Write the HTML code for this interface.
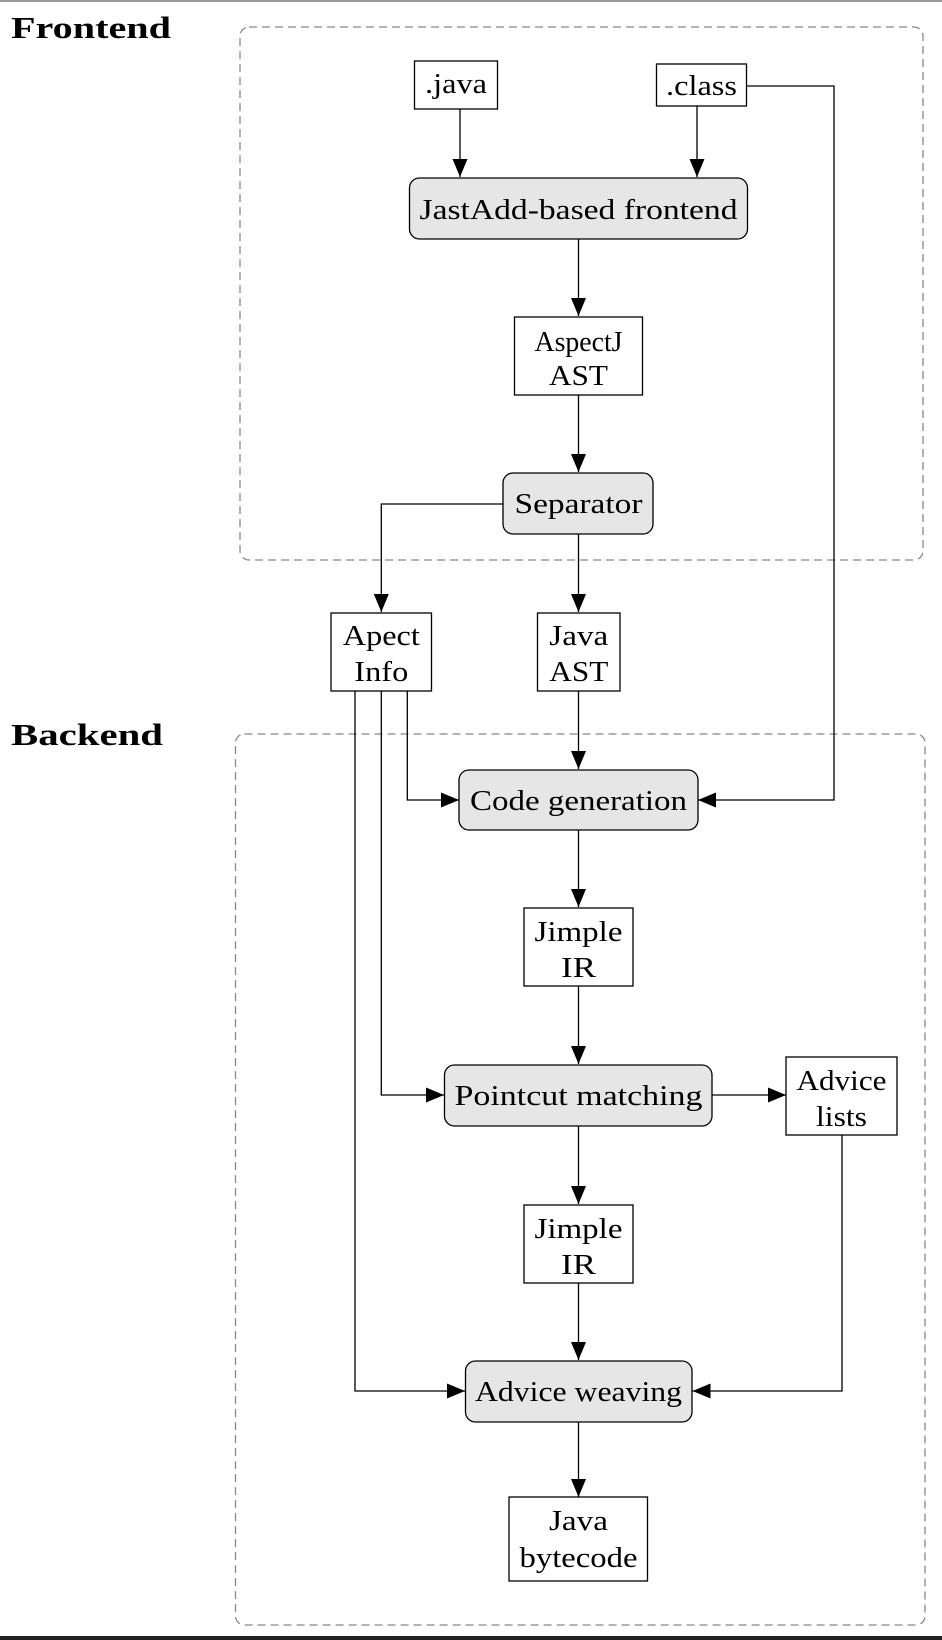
<!DOCTYPE html>
<html><head><meta charset="utf-8"><style>
html,body{margin:0;padding:0;background:#fff;}
svg{display:block;}
text{font-family:"Liberation Serif",serif;font-size:28px;fill:#000;}
.lbl{font-weight:bold;font-size:31px;}
</style></head><body>
<svg width="942" height="1640" viewBox="0 0 942 1640" xmlns="http://www.w3.org/2000/svg">
<defs>
<marker id="a" markerWidth="19" markerHeight="15" refX="18" refY="7.5" orient="auto" markerUnits="userSpaceOnUse">
<path d="M0,0 L18,7.5 L0,15 z" fill="#000"/>
</marker>
</defs>
<rect x="0" y="0" width="942" height="2" fill="#999"/>
<rect x="0" y="1636" width="942" height="4" fill="#222"/>
<text class="lbl" x="11" y="38" textLength="160" lengthAdjust="spacingAndGlyphs">Frontend</text>
<text class="lbl" x="11" y="745" textLength="152" lengthAdjust="spacingAndGlyphs">Backend</text>
<rect x="240" y="27" width="683" height="533" rx="9" fill="none" stroke="#888" stroke-width="1.3" stroke-dasharray="8,5"/>
<rect x="235.5" y="734" width="689.5" height="891" rx="9" fill="none" stroke="#888" stroke-width="1.3" stroke-dasharray="8,5"/>
<g fill="none" stroke="#000" stroke-width="1.3">
<path d="M460,109 V177" marker-end="url(#a)"/>
<path d="M697,106 V177" marker-end="url(#a)"/>
<path d="M747,86 H834 V800 H698" marker-end="url(#a)"/>
<path d="M578.5,239 V316" marker-end="url(#a)"/>
<path d="M578.5,395 V472" marker-end="url(#a)"/>
<path d="M503,504 H381.3 V612" marker-end="url(#a)"/>
<path d="M578.5,534 V612" marker-end="url(#a)"/>
<path d="M578.5,691 V769" marker-end="url(#a)"/>
<path d="M407.3,691 V800 H459" marker-end="url(#a)"/>
<path d="M381.3,691 V1095 H444" marker-end="url(#a)"/>
<path d="M355,691 V1391 H465" marker-end="url(#a)"/>
<path d="M578.5,830 V907" marker-end="url(#a)"/>
<path d="M578.5,986 V1064" marker-end="url(#a)"/>
<path d="M712,1095 H786" marker-end="url(#a)"/>
<path d="M578.5,1126 V1204" marker-end="url(#a)"/>
<path d="M578.5,1283 V1360" marker-end="url(#a)"/>
<path d="M842,1135 V1391 H692.5" marker-end="url(#a)"/>
<path d="M578.5,1422 V1497" marker-end="url(#a)"/>
</g>
<g stroke="#000" stroke-width="1.3" fill="#fff">
<rect x="414.5" y="61" width="83" height="48"/>
<rect x="656.5" y="64" width="90" height="42"/>
<rect x="409.5" y="178" width="338" height="61" rx="10" fill="#e6e6e6"/>
<rect x="514.5" y="317" width="128" height="78"/>
<rect x="503" y="473" width="150" height="61" rx="10" fill="#e6e6e6"/>
<rect x="331" y="613" width="100.5" height="78"/>
<rect x="537.5" y="613" width="82.5" height="78"/>
<rect x="459" y="770" width="239" height="60" rx="10" fill="#e6e6e6"/>
<rect x="524" y="908" width="109" height="78"/>
<rect x="444.5" y="1065" width="267.5" height="61" rx="10" fill="#e6e6e6"/>
<rect x="786" y="1057" width="111" height="78"/>
<rect x="524" y="1205" width="109" height="78"/>
<rect x="465.5" y="1361" width="226.5" height="61" rx="10" fill="#e6e6e6"/>
<rect x="509" y="1497" width="138.5" height="84"/>
</g>
<g text-anchor="middle">
<text x="456" y="93" textLength="62" lengthAdjust="spacingAndGlyphs">.java</text>
<text x="701.5" y="95" textLength="71" lengthAdjust="spacingAndGlyphs">.class</text>
<text x="578.5" y="219" textLength="318" lengthAdjust="spacingAndGlyphs">JastAdd-based frontend</text>
<text x="578.5" y="351" textLength="88" lengthAdjust="spacingAndGlyphs">AspectJ</text>
<text x="578.5" y="385" textLength="59" lengthAdjust="spacingAndGlyphs">AST</text>
<text x="578.5" y="513" textLength="128" lengthAdjust="spacingAndGlyphs">Separator</text>
<text x="381.3" y="645" textLength="77" lengthAdjust="spacingAndGlyphs">Apect</text>
<text x="381.3" y="681" textLength="54" lengthAdjust="spacingAndGlyphs">Info</text>
<text x="578.8" y="645" textLength="59" lengthAdjust="spacingAndGlyphs">Java</text>
<text x="578.8" y="681" textLength="59" lengthAdjust="spacingAndGlyphs">AST</text>
<text x="578.5" y="810" textLength="217" lengthAdjust="spacingAndGlyphs">Code generation</text>
<text x="578.5" y="941" textLength="88" lengthAdjust="spacingAndGlyphs">Jimple</text>
<text x="578.5" y="977" textLength="35" lengthAdjust="spacingAndGlyphs">IR</text>
<text x="578.5" y="1105" textLength="248" lengthAdjust="spacingAndGlyphs">Pointcut matching</text>
<text x="841.5" y="1090" textLength="90" lengthAdjust="spacingAndGlyphs">Advice</text>
<text x="841.5" y="1126" textLength="51" lengthAdjust="spacingAndGlyphs">lists</text>
<text x="578.5" y="1238" textLength="88" lengthAdjust="spacingAndGlyphs">Jimple</text>
<text x="578.5" y="1274" textLength="35" lengthAdjust="spacingAndGlyphs">IR</text>
<text x="578.5" y="1401" textLength="207" lengthAdjust="spacingAndGlyphs">Advice weaving</text>
<text x="578.5" y="1530" textLength="59" lengthAdjust="spacingAndGlyphs">Java</text>
<text x="578.5" y="1567" textLength="118" lengthAdjust="spacingAndGlyphs">bytecode</text>
</g>
</svg>
</body></html>
